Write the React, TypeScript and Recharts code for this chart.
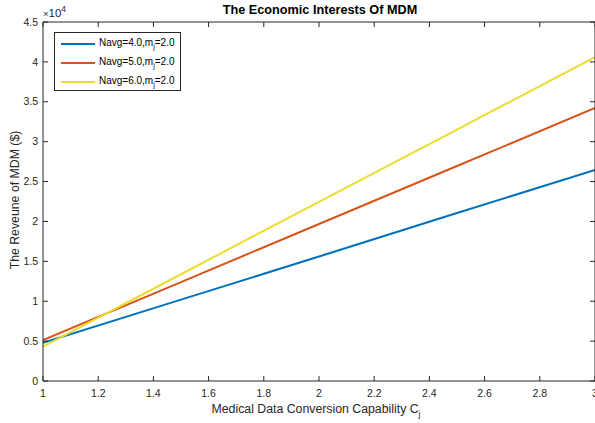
import React from 'react';
import { LineChart, Line, XAxis, YAxis } from 'recharts';

const capability = [1, 1.5, 2, 2.5, 3];
const navg4 = [4800, 10200, 15600, 21050, 26450];
const navg5 = [5140, 12400, 19680, 26950, 34220];
const navg6 = [4300, 13380, 22450, 31520, 40600];
const xTicks = [1, 1.2, 1.4, 1.6, 1.8, 2, 2.2, 2.4, 2.6, 2.8, 3];
const yTicks = [0, 5000, 10000, 15000, 20000, 25000, 30000, 35000, 40000, 45000];
const seriesNames = ['Navg=4.0', 'Navg=5.0', 'Navg=6.0'];
const seriesSuffix = '=2.0';

const data = capability.map((c, i) => ({ c, s4: navg4[i], s5: navg5[i], s6: navg6[i] }));

const AX = '#262626';
const FONT = '"Liberation Sans", Arial, Helvetica, sans-serif';
const colors = ['#0072BD', '#D95319', '#EBDD2E'];
const TICK_FS = 10.5;

const BottomTick = (p: any) => (
  <g>
    <line x1={p.x} x2={p.x} y1={p.y} y2={p.y - 5} stroke={AX} strokeWidth={1} />
    <text x={p.x} y={p.y + 16} textAnchor="middle" fontSize={TICK_FS} fill={AX} fontFamily={FONT}>
      {p.payload.value}
    </text>
  </g>
);
const TopTick = (p: any) => (
  <line x1={p.x} x2={p.x} y1={p.y} y2={p.y + 5} stroke={AX} strokeWidth={1} />
);
const LeftTick = (p: any) => (
  <g>
    <line x1={p.x} x2={p.x + 5} y1={p.y} y2={p.y} stroke={AX} strokeWidth={1} />
    <text x={p.x - 5} y={p.y + 3.7} textAnchor="end" fontSize={TICK_FS} fill={AX} fontFamily={FONT}>
      {String(p.payload.value / 10000)}
    </text>
  </g>
);
const RightTick = (p: any) => (
  <line x1={p.x} x2={p.x - 5} y1={p.y} y2={p.y} stroke={AX} strokeWidth={1} />
);

const LegendBox = () => (
  <div
    style={{
      position: 'absolute',
      left: 54,
      top: 32,
      border: `1px solid ${AX}`,
      background: '#fff',
      width: 125,
      height: 56,
      fontFamily: FONT,
      fontSize: 10,
      color: '#000',
      paddingTop: 1,
    }}
  >
    {seriesNames.map((n, i) => (
      <div key={n} style={{ height: 19, position: 'relative' }}>
        <div style={{ position: 'absolute', left: 6, width: 34, height: 2, background: colors[i], top: 9 }} />
        <span style={{ position: 'absolute', left: 44, top: 3, whiteSpace: 'nowrap', lineHeight: '12px' }}>
          {n},m<sub style={{ fontSize: 7, verticalAlign: -3, lineHeight: 0 }}>j</sub>{seriesSuffix}
        </span>
      </div>
    ))}
  </div>
);

export default function App() {
  return (
    <div style={{ position: 'absolute', left: 0, top: 0, width: 595, height: 423, overflow: 'hidden', background: '#fff', fontFamily: FONT }}>
      <LineChart width={596} height={423} data={data} margin={{ top: 21, right: 0, bottom: 12, left: 3 }}>
        <XAxis xAxisId="b" dataKey="c" type="number" domain={[1, 3]} ticks={xTicks} height={30}
          tickSize={0} tickMargin={0} tickLine={false} axisLine={{ stroke: AX }} tick={<BottomTick />} interval={0} allowDataOverflow />
        <XAxis xAxisId="t" orientation="top" dataKey="c" type="number" domain={[1, 3]} ticks={xTicks} height={1}
          tickSize={0} tickMargin={0} tickLine={false} axisLine={{ stroke: AX }} tick={<TopTick />} interval={0} allowDataOverflow />
        <YAxis yAxisId="l" type="number" domain={[0, 45000]} ticks={yTicks} width={40}
          tickSize={0} tickMargin={0} tickLine={false} axisLine={{ stroke: AX }} tick={<LeftTick />} interval={0} allowDataOverflow />
        <YAxis yAxisId="r" orientation="right" type="number" domain={[0, 45000]} ticks={yTicks} width={1}
          tickSize={0} tickMargin={0} tickLine={false} axisLine={{ stroke: AX }} tick={<RightTick />} interval={0} allowDataOverflow />
        <Line xAxisId="b" yAxisId="l" dataKey="s4" stroke={colors[0]} strokeWidth={2} dot={false} isAnimationActive={false} />
        <Line xAxisId="b" yAxisId="l" dataKey="s5" stroke={colors[1]} strokeWidth={2} dot={false} isAnimationActive={false} />
        <Line xAxisId="b" yAxisId="l" dataKey="s6" stroke={colors[2]} strokeWidth={2} dot={false} isAnimationActive={false} />
      </LineChart>
      <LegendBox />
      <div style={{ position: 'absolute', left: 320, top: 3, transform: 'translateX(-50%)', fontWeight: 'bold', fontSize: 12.7, whiteSpace: 'nowrap', color: '#000' }}>
        The Economic Interests Of MDM
      </div>
      <div style={{ position: 'absolute', left: 43, top: 4, fontSize: 11.5, whiteSpace: 'nowrap', color: AX }}>
        <span style={{ fontSize: 9.5 }}>×</span>10<sup style={{ fontSize: 8.5, verticalAlign: 5 }}>4</sup>
      </div>
      <div style={{ position: 'absolute', left: 316, top: 402, transform: 'translateX(-50%)', fontSize: 12.3, whiteSpace: 'nowrap', color: AX }}>
        Medical Data Conversion Capability C<sub style={{ fontSize: 8.5, verticalAlign: -4 }}>j</sub>
      </div>
      <div style={{ position: 'absolute', left: 15, top: 200, transform: 'translate(-50%, -50%) rotate(-90deg)', fontSize: 12.3, whiteSpace: 'nowrap', color: AX }}>
        The Reveune of MDM ($)
      </div>
    </div>
  );
}
